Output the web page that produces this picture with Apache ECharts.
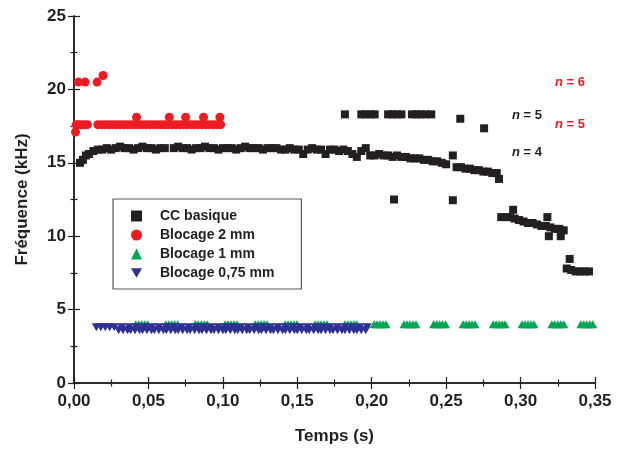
<!DOCTYPE html>
<html><head><meta charset="utf-8">
<script src="https://cdn.jsdelivr.net/npm/echarts@6/dist/echarts.min.js"></script>
<style>html,body{margin:0;padding:0;background:#fff}#c{width:617px;height:450px}</style>
</head><body><div id="c"></div>
<script>
var seriesNames = ['CC basique', 'Blocage 2 mm', 'Blocage 1 mm', 'Blocage 0,75 mm'];
var xTicks = [0, 0.05, 0.10, 0.15, 0.20, 0.25, 0.30, 0.35];
var yTicks = [0, 5, 10, 15, 20, 25];

var ccBasique = [
 [0.004,15.0],[0.006,15.2],[0.008,15.5],[0.010,15.6],[0.013,15.8],[0.016,15.9],[0.019,15.9],[0.022,16.0],
 [0.025,15.9],[0.028,16.0],[0.031,16.1],[0.034,16.0],[0.037,16.0],[0.040,15.9],[0.043,16.0],[0.046,16.1],
 [0.049,16.0],[0.052,16.0],[0.055,15.9],[0.058,16.0],[0.061,16.0],[0.067,16.0],[0.070,16.1],[0.073,16.0],
 [0.076,16.0],[0.079,15.9],[0.082,16.0],[0.085,16.0],[0.088,16.1],[0.091,16.0],[0.094,16.0],[0.097,15.9],
 [0.100,16.0],[0.103,16.0],[0.106,16.0],[0.109,15.9],[0.112,16.0],[0.115,16.1],[0.118,16.0],[0.121,16.0],
 [0.124,16.0],[0.127,15.9],[0.130,16.0],[0.133,16.0],[0.136,16.0],[0.139,15.9],[0.142,15.9],[0.145,16.0],
 [0.148,15.9],[0.151,15.9],[0.154,15.6],[0.157,15.9],[0.160,16.0],[0.163,15.9],[0.166,15.9],[0.169,15.6],
 [0.172,15.9],[0.175,15.9],[0.178,15.8],[0.181,15.9],[0.184,15.8],[0.187,15.6],[0.190,15.4],[0.193,15.8],
 [0.196,16.0],[0.199,15.5],[0.202,15.5],[0.205,15.6],[0.208,15.5],[0.211,15.5],[0.214,15.4],[0.217,15.5],
 [0.220,15.4],[0.223,15.4],[0.226,15.3],[0.229,15.3],[0.232,15.3],[0.235,15.2],[0.238,15.2],[0.241,15.1],
 [0.244,15.1],[0.247,15.0],[0.250,14.9],[0.2545,15.5],[0.257,14.7],[0.260,14.7],[0.263,14.6],[0.266,14.6],
 [0.269,14.5],[0.272,14.5],[0.275,14.4],[0.278,14.4],[0.281,14.3],[0.284,14.3],[0.2855,13.9],[0.287,11.3],
 [0.290,11.3],[0.293,11.3],[0.295,11.8],[0.296,11.2],[0.299,11.1],[0.302,11.0],[0.305,10.9],[0.308,10.9],
 [0.311,10.8],[0.314,10.7],[0.317,10.7],[0.318,11.3],[0.319,10.0],[0.320,10.6],[0.323,10.5],[0.326,10.5],
 [0.327,10.0],[0.329,10.4],[0.331,7.8],[0.333,8.45],[0.334,7.7],[0.337,7.6],[0.340,7.6],[0.343,7.6],[0.346,7.6],
 [0.215,12.5],[0.2545,12.45],[0.2595,18.0],[0.2755,17.35],
 [0.182,18.3],[0.193,18.3],[0.196,18.3],[0.199,18.3],[0.202,18.3],[0.211,18.3],[0.214,18.3],[0.217,18.3],
 [0.220,18.3],[0.227,18.3],[0.230,18.3],[0.233,18.3],[0.236,18.3],[0.240,18.3]
];

var blocage2 = [
 [0.001,17.1],[0.0015,17.6],[0.003,17.6],[0.005,17.6],[0.007,17.6],[0.009,17.6],
 [0.003,20.5],[0.0075,20.5],[0.0155,20.5],[0.0195,20.95],
 [0.016,17.6],[0.0185,17.6],[0.021,17.6],[0.0235,17.6],[0.026,17.6],[0.0285,17.6],[0.031,17.6],[0.0335,17.6],
 [0.036,17.6],[0.0385,17.6],[0.041,17.6],[0.0435,17.6],[0.046,17.6],[0.0485,17.6],[0.051,17.6],[0.0535,17.6],
 [0.056,17.6],[0.0585,17.6],[0.061,17.6],[0.0635,17.6],[0.066,17.6],[0.0685,17.6],[0.071,17.6],[0.0735,17.6],
 [0.076,17.6],[0.0785,17.6],[0.081,17.6],[0.0835,17.6],[0.086,17.6],[0.0885,17.6],[0.091,17.6],[0.0935,17.6],
 [0.096,17.6],[0.0985,17.6],
 [0.042,18.1],[0.064,18.1],[0.075,18.1],[0.087,18.1],[0.098,18.1]
];

var blocage1 = [
 [0.0415,4.0],[0.0435,4.0],[0.0455,4.0],[0.0475,4.0],[0.0495,4.0],
 [0.0617,4.0],[0.0637,4.0],[0.0657,4.0],[0.0677,4.0],[0.0697,4.0],
 [0.0815,4.0],[0.0835,4.0],[0.0855,4.0],[0.0875,4.0],[0.0895,4.0],
 [0.1015,4.0],[0.1035,4.0],[0.1055,4.0],[0.1075,4.0],[0.1095,4.0],
 [0.1217,4.0],[0.1237,4.0],[0.1257,4.0],[0.1277,4.0],[0.1297,4.0],
 [0.1418,4.0],[0.1438,4.0],[0.1458,4.0],[0.1478,4.0],[0.1498,4.0],
 [0.1620,4.0],[0.1640,4.0],[0.1660,4.0],[0.1680,4.0],[0.1700,4.0],
 [0.1820,4.0],[0.1840,4.0],[0.1860,4.0],[0.1880,4.0],[0.1900,4.0],
 [0.2016,4.0],[0.2036,4.0],[0.2056,4.0],[0.2076,4.0],[0.2096,4.0],
 [0.2217,4.0],[0.2237,4.0],[0.2257,4.0],[0.2277,4.0],[0.2297,4.0],
 [0.2416,4.0],[0.2436,4.0],[0.2456,4.0],[0.2476,4.0],[0.2496,4.0],
 [0.2614,4.0],[0.2634,4.0],[0.2654,4.0],[0.2674,4.0],[0.2694,4.0],
 [0.2816,4.0],[0.2836,4.0],[0.2856,4.0],[0.2876,4.0],[0.2896,4.0],
 [0.3010,4.0],[0.3030,4.0],[0.3050,4.0],[0.3070,4.0],[0.3090,4.0],
 [0.3210,4.0],[0.3230,4.0],[0.3250,4.0],[0.3270,4.0],[0.3290,4.0],
 [0.3405,4.0],[0.3425,4.0],[0.3445,4.0],[0.3465,4.0],[0.3485,4.0]
];

var blocage075 = [
 [0.015,3.8],[0.018,3.8],[0.021,3.8],[0.024,3.8],[0.027,3.8],[0.032,3.8],[0.037,3.8],[0.042,3.8],[0.047,3.8],
 [0.052,3.8],[0.057,3.8],[0.062,3.8],[0.067,3.8],[0.072,3.8],[0.077,3.8],[0.082,3.8],[0.087,3.8],[0.092,3.8],
 [0.097,3.8],[0.102,3.8],[0.107,3.8],[0.112,3.8],[0.117,3.8],[0.122,3.8],[0.127,3.8],[0.132,3.8],[0.137,3.8],
 [0.142,3.8],[0.147,3.8],[0.152,3.8],[0.157,3.8],[0.162,3.8],[0.167,3.8],[0.172,3.8],[0.177,3.8],[0.182,3.8],
 [0.187,3.8],[0.192,3.8],[0.197,3.8],
 [0.030,3.6],[0.033,3.6],[0.036,3.6],[0.038,3.6],[0.041,3.6],[0.044,3.6],[0.046,3.6],[0.049,3.6],[0.052,3.6],
 [0.054,3.6],[0.057,3.6],[0.060,3.6],[0.062,3.6],[0.065,3.6],[0.068,3.6],[0.070,3.6],[0.073,3.6],[0.076,3.6],
 [0.078,3.6],[0.081,3.6],[0.084,3.6],[0.086,3.6],[0.089,3.6],[0.092,3.6],[0.094,3.6],[0.097,3.6],[0.100,3.6],
 [0.102,3.6],[0.105,3.6],[0.108,3.6],[0.110,3.6],[0.113,3.6],[0.116,3.6],[0.118,3.6],[0.121,3.6],[0.124,3.6],
 [0.126,3.6],[0.129,3.6],[0.132,3.6],[0.134,3.6],[0.137,3.6],[0.140,3.6],[0.142,3.6],[0.145,3.6],[0.148,3.6],
 [0.150,3.6],[0.153,3.6],[0.156,3.6],[0.158,3.6],[0.161,3.6],[0.164,3.6],[0.166,3.6],[0.169,3.6],[0.172,3.6],
 [0.174,3.6],[0.177,3.6],[0.180,3.6],[0.182,3.6],[0.185,3.6],[0.188,3.6],[0.190,3.6],[0.193,3.6],[0.196,3.6]
];

var annotations = [
 {text: '{i|n} = 6', color: '#ed1c24', x: 585, y: 84},
 {text: '{i|n} = 5', color: '#231f20', x: 542, y: 117},
 {text: '{i|n} = 5', color: '#ed1c24', x: 585, y: 126},
 {text: '{i|n} = 4', color: '#231f20', x: 542, y: 154}
];

var FONT = '"Liberation Sans", Arial, Helvetica, sans-serif';
var INK = '#231f20';
var DOWN_TRI = 'path://M0,0L10,0L5,8.66Z';

function fmtX(v){ return v.toFixed(2).replace('.', ','); }

var axisCommon = {
  axisLine: {show: true, lineStyle: {color: INK, width: 1.5}},
  axisTick: {show: true, inside: true, length: 6, lineStyle: {color: INK, width: 1.2}},
  minorTick: {show: true, splitNumber: 2, length: 3.5, lineStyle: {color: INK, width: 1.2}},
  splitLine: {show: false}
};

var chart = echarts.init(document.getElementById('c'), null, {renderer: 'canvas'});
chart.setOption({
  animation: false,
  backgroundColor: '#fff',
  grid: {left: 74, right: 22, top: 16, bottom: 64},
  xAxis: [
    Object.assign({}, axisCommon, {
      type: 'value', min: xTicks[0], max: xTicks[xTicks.length-1], interval: 0.05, position: 'bottom',
      name: 'Temps (s)', nameLocation: 'middle', nameGap: 45,
      nameTextStyle: {fontFamily: FONT, fontWeight: 'bold', fontSize: 17, color: INK},
      axisLabel: {formatter: fmtX, fontFamily: FONT, fontWeight: 'bold', fontSize: 17, color: INK, margin: 10}
    }),
    Object.assign({}, axisCommon, {
      type: 'value', min: xTicks[0], max: xTicks[xTicks.length-1], interval: 0.05, position: 'top',
      axisLabel: {show: false}
    })
  ],
  yAxis: [
    Object.assign({}, axisCommon, {
      type: 'value', min: yTicks[0], max: yTicks[yTicks.length-1], interval: 5, position: 'left',
      name: 'Fréquence (kHz)', nameLocation: 'middle', nameGap: 43,
      nameTextStyle: {fontFamily: FONT, fontWeight: 'bold', fontSize: 17, color: INK},
      axisLabel: {fontFamily: FONT, fontWeight: 'bold', fontSize: 17, color: INK, margin: 8}
    }),
    Object.assign({}, axisCommon, {
      type: 'value', min: yTicks[0], max: yTicks[yTicks.length-1], interval: 5, position: 'right',
      axisLabel: {show: false}
    })
  ],
  legend: {
    left: 113, top: 199, orient: 'vertical',
    padding: [10, 27, 9, 18], itemGap: 5, itemWidth: 11, itemHeight: 11,
    borderColor: '#555', borderWidth: 1.2, borderRadius: 0,
    textStyle: {fontFamily: FONT, fontWeight: 'bold', fontSize: 14, color: INK, padding: [0, 0, 0, 13]},
    data: [
      {name: seriesNames[0], icon: 'rect'},
      {name: seriesNames[1], icon: 'circle'},
      {name: seriesNames[2], icon: 'triangle'},
      {name: seriesNames[3], icon: DOWN_TRI}
    ]
  },
  graphic: annotations.map(function(a){
    return {type: 'text', right: 617 - a.x, top: a.y - 8, z: 10,
      style: {text: a.text, fill: a.color, font: 'bold 13px ' + FONT,
        rich: {i: {fontStyle: 'italic', fontWeight: 'bold', fontSize: 13, fontFamily: FONT, fill: a.color}}}};
  }),
  series: [
    {name: seriesNames[0], type: 'scatter', data: ccBasique, symbol: 'rect', symbolSize: 8,
     itemStyle: {color: INK, opacity: 1}},
    {name: seriesNames[1], type: 'scatter', data: blocage2, symbol: 'circle', symbolSize: 9,
     itemStyle: {color: '#ed1c24', opacity: 1}},
    {name: seriesNames[2], type: 'scatter', data: blocage1, symbol: 'triangle', symbolSize: [9, 8],
     itemStyle: {color: '#00a651', opacity: 1}},
    {name: seriesNames[3], type: 'scatter', data: blocage075, symbol: DOWN_TRI, symbolSize: [9, 8],
     itemStyle: {color: '#2e3192', opacity: 1}}
  ]
});
</script></body></html>
